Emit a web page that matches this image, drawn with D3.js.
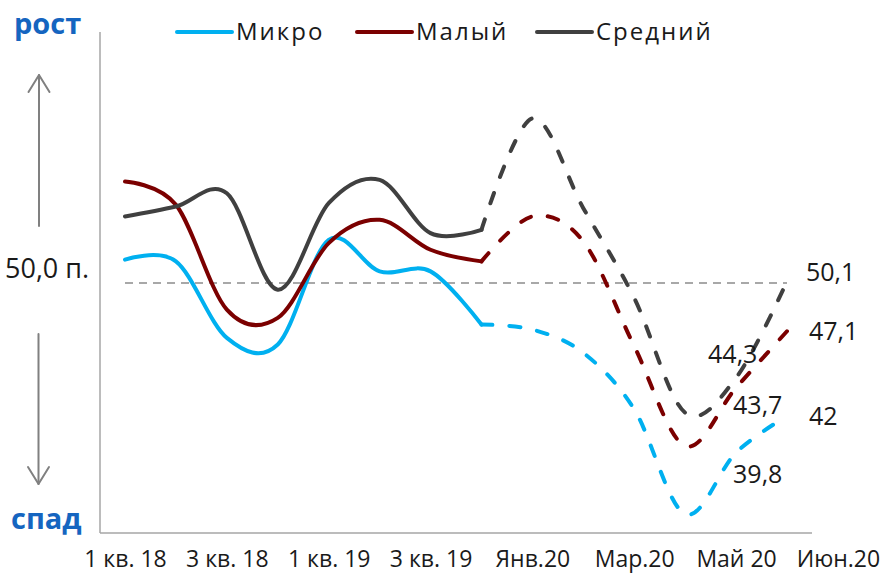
<!DOCTYPE html>
<html>
<head>
<meta charset="utf-8">
<script src="https://cdn.jsdelivr.net/npm/d3@7"></script>
<style>
  html, body { margin: 0; padding: 0; background: #fff; }
  svg { display: block; font-family: "Open Sans", sans-serif; }
</style>
</head>
<body>
<svg id="chart" width="885" height="577"></svg>
<script>
// ---- data ----
const categories = ['1 кв. 18','2 кв. 18','3 кв. 18','4 кв. 18','1 кв. 19','2 кв. 19','3 кв. 19','4 кв. 19',
                    'Янв.20','Фев.20','Мар.20','Апр.20','Май 20','Июн.20'];
const tickLabels = ['1 кв. 18','3 кв. 18','1 кв. 19','3 кв. 19','Янв.20','Мар.20','Май 20','Июн.20'];
const tickIndex  = [0, 2, 4, 6, 8, 10, 12, 14];
const micro  = [51.4, 51.3, 46.7, 46.3, 52.6, 50.7, 50.7, 47.5, 47.2, 45.8, 42.4, 36.1, 39.8, 42.0];
const small  = [56.1, 54.7, 48.4, 47.9, 52.4, 53.8, 52.0, 51.3, 54.0, 52.5, 46.2, 40.2, 43.7, 47.1];
const medium = [54.0, 54.6, 55.4, 49.6, 54.8, 56.2, 53.0, 53.2, 59.9, 54.5, 49.1, 42.2, 44.3, 50.1];
const seriesNames = ['Микро', 'Малый', 'Средний'];
const seriesColors = ['#00B0F0', '#7B0000', '#404040'];
const lastActual = 7;      // solid up to this index, dashed afterwards
const threshold = 50;
const thresholdLabel = '50,0 п.';
const mayLabels = ['39,8', '43,7', '44,3'];
const junLabels = ['42', '47,1', '50,1'];

const svg = d3.select('#chart');

// ---- scales ----
const x = d3.scaleLinear().domain([0, 13]).range([125, 787]);
const y = d3.scaleLinear().domain([50, 42]).range([283, 416]);

// ---- frame axes ----
svg.append('line').attr('x1', 100).attr('x2', 100).attr('y1', 32).attr('y2', 533)
  .attr('stroke', '#A6A6A6').attr('stroke-width', 1.5);
svg.append('line').attr('x1', 100).attr('x2', 812).attr('y1', 533).attr('y2', 533)
  .attr('stroke', '#A6A6A6').attr('stroke-width', 1.5);

// x tick labels via axis
const xAxis = d3.axisBottom(x)
  .tickValues(tickIndex)
  .tickFormat((d, i) => tickLabels[i])
  .tickSize(0).tickPadding(0);
const gx = svg.append('g').attr('transform', 'translate(0,551)').call(xAxis);
gx.select('.domain').remove();
gx.selectAll('text').attr('font-size', 23).attr('fill', '#1a1a1a')
  .attr('font-family', '"Open Sans", sans-serif').attr('dy', '0.71em');

// threshold line
svg.append('line').attr('x1', x(0)).attr('x2', x(13)).attr('y1', y(threshold)).attr('y2', y(threshold))
  .attr('stroke', '#8C8C8C').attr('stroke-width', 1.5).attr('stroke-dasharray', '8,6');

// ---- series ----
const all = [micro, small, medium];
const line = d3.line().x(d => x(d.i)).y(d => y(d.v)).curve(d3.curveCardinal.tension(0));
all.forEach((vals, s) => {
  const pts = vals.map((v, i) => ({i, v}));
  svg.append('path').attr('d', line(pts.slice(0, lastActual + 1)))
    .attr('fill', 'none').attr('stroke', seriesColors[s]).attr('stroke-width', 4)
    .attr('stroke-linejoin', 'round').attr('stroke-linecap', 'round');
  svg.append('path').attr('d', line(pts.slice(lastActual)))
    .attr('fill', 'none').attr('stroke', seriesColors[s]).attr('stroke-width', 4)
    .attr('stroke-dasharray', '11,17').attr('stroke-linecap', 'round');
});

// ---- data labels ----
const lblFont = 25;
const junOffsets = [[22, 9], [22, 9], [19, 0]];
all.forEach((vals, s) => {
  svg.append('text').attr('x', x(13) + junOffsets[s][0]).attr('y', y(vals[13]) + junOffsets[s][1])
    .attr('font-size', lblFont).attr('fill', '#1a1a1a').text(junLabels[s]);
});
const mayOffsets = [[-3, 30], [-3, 26], [-28, -15]];
all.forEach((vals, s) => {
  svg.append('text').attr('x', x(12) + mayOffsets[s][0]).attr('y', y(vals[12]) + mayOffsets[s][1])
    .attr('font-size', lblFont).attr('fill', '#1a1a1a').text(mayLabels[s]);
});

// ---- left annotations ----
svg.append('text').attr('x', 5).attr('y', 278).attr('font-size', 27).attr('fill', '#1a1a1a').text(thresholdLabel);
svg.append('text').attr('x', 14).attr('y', 34).attr('font-size', 29).attr('font-weight', 700)
  .attr('fill', '#1565C0').text('рост');
svg.append('text').attr('x', 11).attr('y', 529).attr('font-size', 29).attr('font-weight', 700)
  .attr('fill', '#1565C0').text('спад');
const arrowG = svg.append('g').attr('stroke', '#808080').attr('stroke-width', 2).attr('fill', 'none')
  .attr('stroke-linecap', 'round').attr('stroke-linejoin', 'round');
arrowG.append('line').attr('x1', 39).attr('x2', 39).attr('y1', 226).attr('y2', 75);
arrowG.append('polyline').attr('points', '28.5,92 39,75 49.5,92');
arrowG.append('line').attr('x1', 38.5).attr('x2', 38.5).attr('y1', 334).attr('y2', 484);
arrowG.append('polyline').attr('points', '28,467 38.5,484 49,467');

// ---- legend ----
const legX = [177, 357, 537];
seriesNames.forEach((n, s) => {
  svg.append('line').attr('x1', legX[s]).attr('x2', legX[s] + 55).attr('y1', 32).attr('y2', 32)
    .attr('stroke', seriesColors[s]).attr('stroke-width', 4).attr('stroke-linecap', 'round');
  svg.append('text').attr('x', legX[s] + 59).attr('y', 40).attr('font-size', 24)
    .attr('letter-spacing', 2).attr('fill', '#1a1a1a').text(n);
});
</script>
</body>
</html>
